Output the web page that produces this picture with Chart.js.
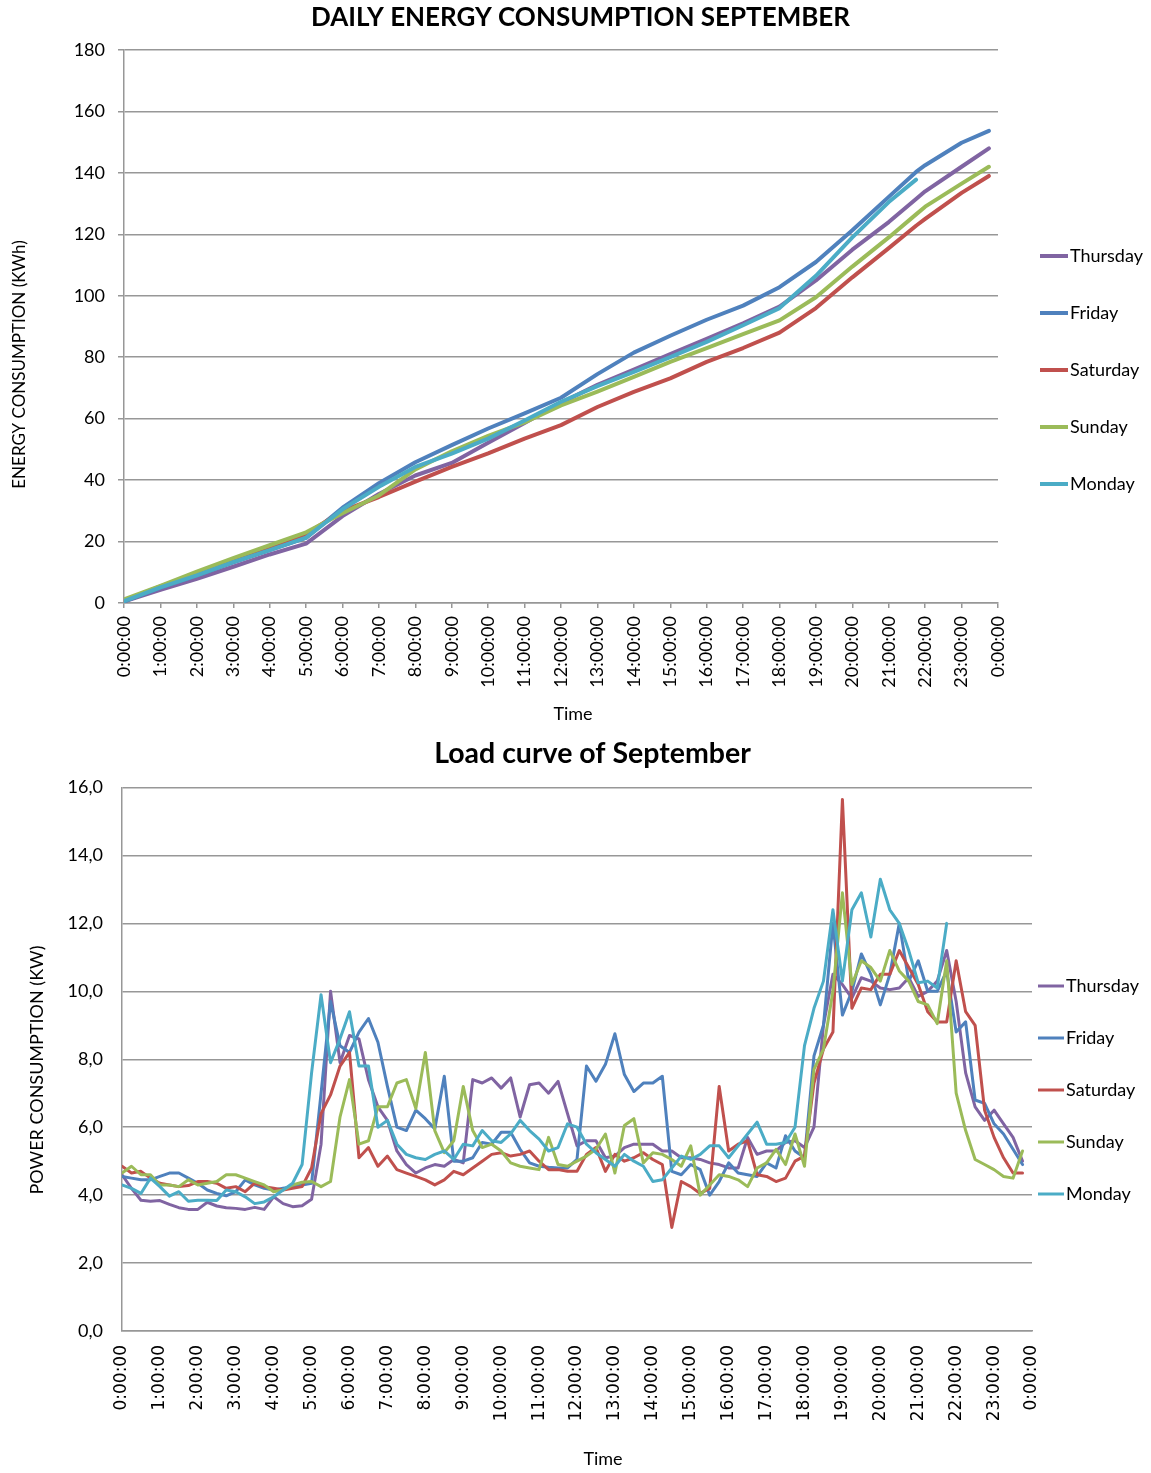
<!DOCTYPE html>
<html>
<head>
<meta charset="utf-8">
<title>Daily energy consumption and load curve – September</title>
<script src="https://cdn.jsdelivr.net/npm/chart.js@4.4.1/dist/chart.umd.min.js"></script>
<style>
  html, body { margin: 0; padding: 0; background: #ffffff; }
  #wrap { position: relative; width: 1151px; height: 1473px; }
  canvas { position: absolute; left: 0; }
  #energy { top: 0; }
  #load { top: 735px; }
</style>
</head>
<body>
<div id="wrap">
  <canvas id="energy" width="1151" height="735"></canvas>
  <canvas id="load" width="1151" height="738"></canvas>
</div>
<script>
// ---- series names and colours ----
const dayNames = ['Thursday', 'Friday', 'Saturday', 'Sunday', 'Monday'];
const dayColors = ['#8064A2', '#4F81BD', '#C0504D', '#9BBB59', '#4BACC6'];

// ---- time axis labels (one per hour) ----
const hourLabels = ['0:00:00', '1:00:00', '2:00:00', '3:00:00', '4:00:00', '5:00:00',
  '6:00:00', '7:00:00', '8:00:00', '9:00:00', '10:00:00', '11:00:00', '12:00:00',
  '13:00:00', '14:00:00', '15:00:00', '16:00:00', '17:00:00', '18:00:00', '19:00:00',
  '20:00:00', '21:00:00', '22:00:00', '23:00:00', '0:00:00'];

// ---- cumulative daily energy (kWh) ----
const energyHours = [0, 1, 2, 3, 4, 5, 6, 7, 8, 9, 10, 11, 12, 13, 14, 15, 16, 17, 18, 19, 20, 21, 21.75, 22, 23, 23.75];
const energyThursday = [0.5, 4.3, 7.9, 11.8, 15.8, 19.3, 28.3, 35.5, 41.5, 45.6, 52.2, 58.6, 65.2, 71.0, 76.0, 81.0, 86.0, 91.0, 96.5, 105, 115, 124, 131.5, 134, 142, 148];
const energyFriday   = [0.5, 5.0, 9.0, 13.2, 17.2, 21.2, 31.0, 39.0, 45.8, 51.4, 56.8, 61.7, 66.8, 74.5, 81.5, 87.0, 92.2, 96.8, 102.8, 111.0, 121.3, 132.2, 140.3, 142.5, 149.8, 153.7];
const energySaturday = [0.8, 5.4, 9.6, 13.9, 18.0, 22.5, 30.0, 34.5, 39.5, 44.3, 48.7, 53.5, 57.9, 63.8, 68.7, 73.1, 78.5, 83.0, 88.0, 96, 106, 115.5, 122.8, 125, 133.5, 139];
const energySunday   = [1.2, 5.6, 10.2, 14.6, 18.8, 23.0, 29.2, 35.0, 43.5, 49.4, 54.4, 58.8, 64.3, 68.8, 73.6, 78.5, 83.0, 87.5, 92.0, 99.5, 109.5, 119, 126.5, 129, 136.5, 142];
const energyMonday   = [0.6, 5.1, 9.0, 13.3, 17.2, 21.3, 30.5, 37.8, 44.3, 48.6, 53.5, 59.4, 65.5, 70.6, 75.2, 80.0, 85.0, 90.4, 96.0, 106.5, 119, 130.5, 137.8, null, null, null];

// ---- load curve (kW), readings every 15 minutes from 0:00 to 23:45 ----
const quarterHours = Array.from({ length: 96 }, (_, i) => i / 4);
const loadThursday = [
  4.6, 4.2, 3.85, 3.82, 3.84, 3.73, 3.63, 3.58, 3.58, 3.79,
  3.68, 3.63, 3.61, 3.58, 3.64, 3.58, 3.95, 3.75, 3.66, 3.69,
  3.88, 5.5, 10.0, 7.9, 8.7, 8.6, 7.4, 6.6, 6.2, 5.3,
  4.9, 4.65, 4.8, 4.9, 4.85, 5.05, 4.95, 7.4, 7.3, 7.45,
  7.15, 7.45, 6.3, 7.25, 7.3, 7.0, 7.35, 6.4, 5.45, 5.6,
  5.6, 5.1, 5.15, 5.4, 5.5, 5.5, 5.5, 5.3, 5.3, 5.1,
  5.1, 5.05, 4.95, 4.9, 4.8, 4.8, 5.7, 5.2, 5.3, 5.3,
  5.55, 5.6, 5.4, 6.0, 9.0, 10.5, 10.2, 9.8, 10.4, 10.3,
  10.1, 10.05, 10.1, 10.4, 9.85, 10.0, 10.3, 11.2, 9.7, 7.6,
  6.6, 6.2, 6.5, 6.1, 5.7, 5.0];
const loadFriday = [
  4.55, 4.5, 4.45, 4.45, 4.55, 4.65, 4.65, 4.5, 4.35, 4.15,
  4.05, 3.98, 4.1, 4.45, 4.3, 4.2, 4.15, 4.2, 4.25, 4.3,
  4.35, 7.0, 9.7, 8.4, 8.2, 8.8, 9.2, 8.5, 7.2, 6.0,
  5.9, 6.5, 6.25, 5.95, 7.5, 5.0, 5.0, 5.1, 5.55, 5.5,
  5.85, 5.85, 5.35, 4.95, 4.85, 4.82, 4.8, 4.8, 5.05, 7.8,
  7.35, 7.85, 8.75, 7.55, 7.05, 7.3, 7.3, 7.5, 4.7, 4.6,
  4.9, 4.75, 4.0, 4.4, 4.95, 4.65, 4.6, 4.55, 4.95, 4.8,
  5.75, 5.3, 5.1, 8.1, 9.0, 12.0, 9.3, 10.0, 11.1, 10.5,
  9.6, 10.5, 12.0, 10.3, 10.9, 10.0, 10.0, 10.6, 8.8, 9.1,
  6.8, 6.7, 6.1, 5.8, 5.35, 4.9];
const loadSaturday = [
  4.85, 4.65, 4.7, 4.5, 4.35, 4.3, 4.25, 4.28, 4.4, 4.4,
  4.35, 4.2, 4.25, 4.1, 4.35, 4.25, 4.2, 4.15, 4.2, 4.25,
  4.8, 6.4, 6.95, 7.8, 8.2, 5.1, 5.4, 4.85, 5.15, 4.75,
  4.65, 4.55, 4.45, 4.3, 4.45, 4.7, 4.6, 4.8, 5.0, 5.2,
  5.25, 5.15, 5.2, 5.3, 5.0, 4.75, 4.75, 4.7, 4.7, 5.2,
  5.4, 4.7, 5.2, 5.0, 5.1, 5.25, 5.05, 4.9, 3.05, 4.4,
  4.25, 4.05, 4.2, 7.2, 5.3, 5.5, 5.6, 4.6, 4.55, 4.4,
  4.5, 5.0, 5.15, 7.3, 8.3, 8.8, 15.65, 9.5, 10.1, 10.05,
  10.5, 10.5, 11.2, 10.7, 10.2, 9.4, 9.1, 9.1, 10.9, 9.4,
  9.0, 6.5, 5.7, 5.1, 4.65, 4.65];
const loadSunday = [
  4.65, 4.85, 4.6, 4.6, 4.3, 4.3, 4.25, 4.45, 4.3, 4.35,
  4.4, 4.6, 4.6, 4.5, 4.4, 4.3, 4.1, 4.15, 4.3, 4.38,
  4.4, 4.25, 4.4, 6.3, 7.4, 5.5, 5.6, 6.6, 6.6, 7.3,
  7.4, 6.55, 8.2, 5.9, 5.25, 5.6, 7.2, 5.9, 5.4, 5.5,
  5.3, 4.95, 4.85, 4.8, 4.75, 5.7, 4.9, 4.85, 5.0, 5.15,
  5.35, 5.8, 4.65, 6.05, 6.25, 4.95, 5.25, 5.2, 5.05, 4.85,
  5.45, 4.0, 4.3, 4.6, 4.55, 4.45, 4.25, 4.8, 4.95, 5.35,
  4.9, 5.8, 4.85, 7.7, 8.3, 10.0, 12.9, 10.2, 10.9, 10.7,
  10.3, 11.2, 10.6, 10.3, 9.7, 9.6, 9.05, 10.9, 7.0, 5.9,
  5.05, 4.9, 4.75, 4.55, 4.5, 5.3];
const loadMonday = [
  4.3, 4.2, 4.05, 4.5, 4.25, 3.97, 4.1, 3.82, 3.85, 3.85,
  3.84, 4.15, 4.1, 3.95, 3.75, 3.8, 3.95, 4.15, 4.35, 4.9,
  7.6, 9.9, 7.9, 8.6, 9.4, 7.8, 7.8, 6.0, 6.2, 5.5,
  5.2, 5.1, 5.05, 5.2, 5.3, 5.05, 5.5, 5.45, 5.9, 5.6,
  5.55, 5.8, 6.2, 5.9, 5.65, 5.3, 5.4, 6.1, 6.0, 5.5,
  5.25, 5.05, 4.85, 5.2, 5.0, 4.85, 4.4, 4.45, 4.8, 5.15,
  5.05, 5.2, 5.45, 5.45, 5.1, 5.45, 5.8, 6.15, 5.5, 5.5,
  5.55, 6.0, 8.4, 9.5, 10.3, 12.4, 10.3, 12.4, 12.9, 11.6,
  13.3, 12.4, 12.0, 11.2, 10.25, 10.3, 10.1, 12.0, null, null,
  null, null, null, null, null, null];

const energySeries = [energyThursday, energyFriday, energySaturday, energySunday, energyMonday];
const loadSeries = [loadThursday, loadFriday, loadSaturday, loadSunday, loadMonday];

// ---- shared styling ----
const GRID = '#979797';
const TEXT = '#000000';
Chart.defaults.font.family = 'Lato';
Chart.defaults.color = TEXT;

// free-standing text: chart titles and axis captions
const captionPlugin = {
  id: 'captions',
  afterDraw(chart, args, opts) {
    const ctx = chart.ctx;
    (opts.items || []).forEach(c => {
      ctx.save();
      ctx.translate(c.x, c.y);
      if (c.rotate) ctx.rotate(c.rotate);
      ctx.font = c.font;
      ctx.fillStyle = TEXT;
      ctx.textAlign = 'center';
      ctx.textBaseline = 'middle';
      ctx.fillText(c.text, 0, 0);
      ctx.restore();
    });
  }
};

// legend column to the right of the plot: short line sample + day name
const sideLegendPlugin = {
  id: 'sideLegend',
  afterDraw(chart, args, opts) {
    const ctx = chart.ctx;
    chart.data.datasets.forEach((ds, i) => {
      const y = opts.top + i * opts.step;
      ctx.save();
      ctx.strokeStyle = ds.borderColor;
      ctx.lineWidth = opts.lineWidth;
      ctx.lineCap = 'butt';
      ctx.beginPath();
      ctx.moveTo(opts.x, y);
      ctx.lineTo(opts.x + opts.length, y);
      ctx.stroke();
      ctx.font = opts.font;
      ctx.fillStyle = TEXT;
      ctx.textAlign = 'left';
      ctx.textBaseline = 'middle';
      ctx.fillText(ds.label, opts.x + opts.length + opts.gap, y);
      ctx.restore();
    });
  }
};

function lineDatasets(xs, seriesList, width) {
  return seriesList.map((values, k) => ({
    label: dayNames[k],
    data: values.map((v, i) => ({ x: xs[i], y: v })),
    borderColor: dayColors[k],
    backgroundColor: dayColors[k],
    borderWidth: width,
    pointRadius: 0,
    tension: 0,
    borderJoinStyle: 'round',
    borderCapStyle: 'round',
    order: seriesList.length - k
  }));
}

// ---- chart 1: cumulative energy ----
new Chart(document.getElementById('energy'), {
  type: 'line',
  data: { datasets: lineDatasets(energyHours, energySeries, 4) },
  plugins: [captionPlugin, sideLegendPlugin],
  options: {
    responsive: false,
    animation: false,
    events: [],
    devicePixelRatio: 1,
    layout: { padding: { top: 50, right: 153, bottom: 0, left: 0 } },
    plugins: {
      legend: { display: false },
      tooltip: { enabled: false },
      captions: {
        items: [
          { text: 'DAILY ENERGY CONSUMPTION SEPTEMBER', x: 580.5, y: 18, font: 'bold 26px Lato' },
          { text: 'ENERGY CONSUMPTION (KWh)', x: 20, y: 364.5, rotate: -Math.PI / 2, font: '17px Lato' },
          { text: 'Time', x: 573, y: 714, font: '18px Lato' }
        ]
      },
      sideLegend: { x: 1040, top: 256, step: 57, length: 28, gap: 2, lineWidth: 4, font: '18px Lato' }
    },
    scales: {
      x: {
        type: 'linear', min: 0, max: 24,
        ticks: {
          stepSize: 1, autoSkip: false, minRotation: 90, maxRotation: 90, padding: 8,
          font: { size: 18 }, color: TEXT,
          callback: v => hourLabels[v]
        },
        grid: { drawOnChartArea: false, drawTicks: true, tickLength: 5, color: GRID, lineWidth: 1.5 },
        border: { display: true, color: GRID, width: 1.5 },
        afterFit: s => { s.height = 132; }
      },
      y: {
        min: 0, max: 180,
        ticks: { stepSize: 20, padding: 13, font: { size: 18 }, color: TEXT },
        grid: { color: GRID, lineWidth: 1.5, drawTicks: true, tickLength: 6 },
        border: { display: true, color: GRID, width: 1.5 },
        afterFit: s => { s.width = 124; }
      }
    }
  }
});

// ---- chart 2: load curve ----
new Chart(document.getElementById('load'), {
  type: 'line',
  data: { datasets: lineDatasets(quarterHours, loadSeries, 3) },
  plugins: [captionPlugin, sideLegendPlugin],
  options: {
    responsive: false,
    animation: false,
    events: [],
    devicePixelRatio: 1,
    layout: { padding: { top: 52.5, right: 119, bottom: 0, left: 0 } },
    plugins: {
      legend: { display: false },
      tooltip: { enabled: false },
      captions: {
        items: [
          { text: 'Load curve of September', x: 592.5, y: 19, font: 'bold 28.5px Lato' },
          { text: 'POWER CONSUMPTION (KW)', x: 37, y: 335, rotate: -Math.PI / 2, font: '18px Lato' },
          { text: 'Time', x: 603, y: 724, font: '18px Lato' }
        ]
      },
      sideLegend: { x: 1038, top: 251, step: 52, length: 26, gap: 2, lineWidth: 3, font: '18px Lato' }
    },
    scales: {
      x: {
        type: 'linear', min: 0, max: 24,
        ticks: {
          stepSize: 1, autoSkip: false, minRotation: 90, maxRotation: 90, padding: 14,
          font: { family: 'DejaVu Sans', size: 17 }, color: TEXT,
          callback: v => hourLabels[v]
        },
        grid: { drawOnChartArea: false, drawTicks: false },
        border: { display: true, color: GRID, width: 1.5 },
        afterFit: s => { s.height = 142; }
      },
      y: {
        min: 0, max: 16,
        ticks: {
          stepSize: 2, padding: 19, font: { size: 18 }, color: TEXT,
          callback: v => v.toFixed(1).replace('.', ',')
        },
        grid: { color: GRID, lineWidth: 1.5, drawTicks: false },
        border: { display: true, color: GRID, width: 1.5 },
        afterFit: s => { s.width = 122; }
      }
    }
  }
});
</script>
</body>
</html>
